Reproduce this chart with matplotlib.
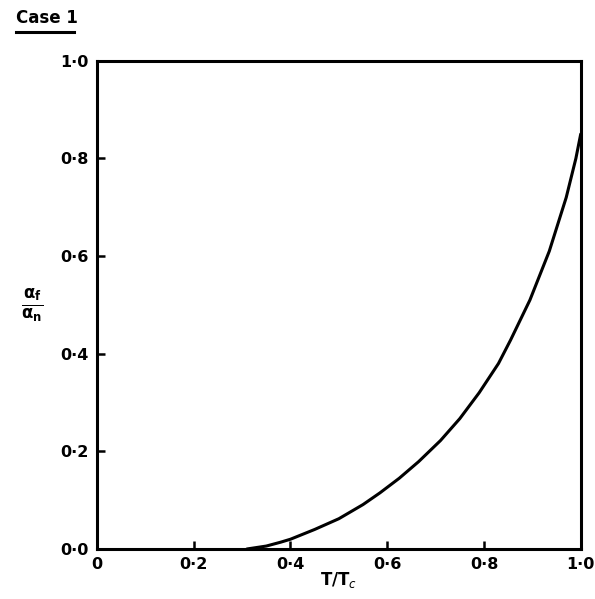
import matplotlib
matplotlib.use('Agg')
import matplotlib.pyplot as plt
from matplotlib.lines import Line2D

# Curve
t_ratio = [0.31, 0.35, 0.38, 0.40, 0.45, 0.50, 0.55, 0.585, 0.625, 0.665, 0.71,
           0.75, 0.79, 0.83, 0.855, 0.895, 0.935, 0.97, 0.99, 1.0]
alpha_ratio = [0.0, 0.006, 0.014, 0.02, 0.04, 0.062, 0.091, 0.115, 0.145, 0.179, 0.222,
               0.267, 0.32, 0.38, 0.428, 0.51, 0.61, 0.72, 0.80, 0.85]

tick_vals = [0.0, 0.2, 0.4, 0.6, 0.8, 1.0]
x_tick_labels = ['0', '0·2', '0·4', '0·6', '0·8', '1·0']
y_tick_labels = ['0·0', '0·2', '0·4', '0·6', '0·8', '1·0']

fig = plt.figure(figsize=(5.95, 5.99), dpi=100)
ax = fig.add_axes([0.163, 0.0835, 0.813, 0.815])

ax.plot(t_ratio, alpha_ratio, color='black', lw=2.2, solid_capstyle='round',
        solid_joinstyle='round')

ax.set_xlim(0, 1.0)
ax.set_ylim(0, 1.0)
ax.set_xticks(tick_vals)
ax.set_xticklabels(x_tick_labels)
ax.set_yticks(tick_vals)
ax.set_yticklabels(y_tick_labels)
ax.tick_params(direction='in', length=6, width=1.8, labelsize=11.5, pad=6)
for lab in ax.get_xticklabels() + ax.get_yticklabels():
    lab.set_fontweight('bold')

for sp in ax.spines.values():
    sp.set_linewidth(2.2)

ax.set_xlabel('T/T$_c$', fontsize=12, fontweight='bold', labelpad=-2)
ax.set_ylabel(r'$\mathbf{\frac{\alpha_f}{\alpha_n}}$', fontsize=17, rotation=0, labelpad=20, va='center')

# title with underline
fig.text(0.027, 0.970, 'Case 1', fontsize=12, fontweight='bold', ha='left', va='center')
fig.add_artist(Line2D([0.027, 0.125], [0.946, 0.946], color='black', lw=2.2))

fig.savefig('out.png', dpi=100)
